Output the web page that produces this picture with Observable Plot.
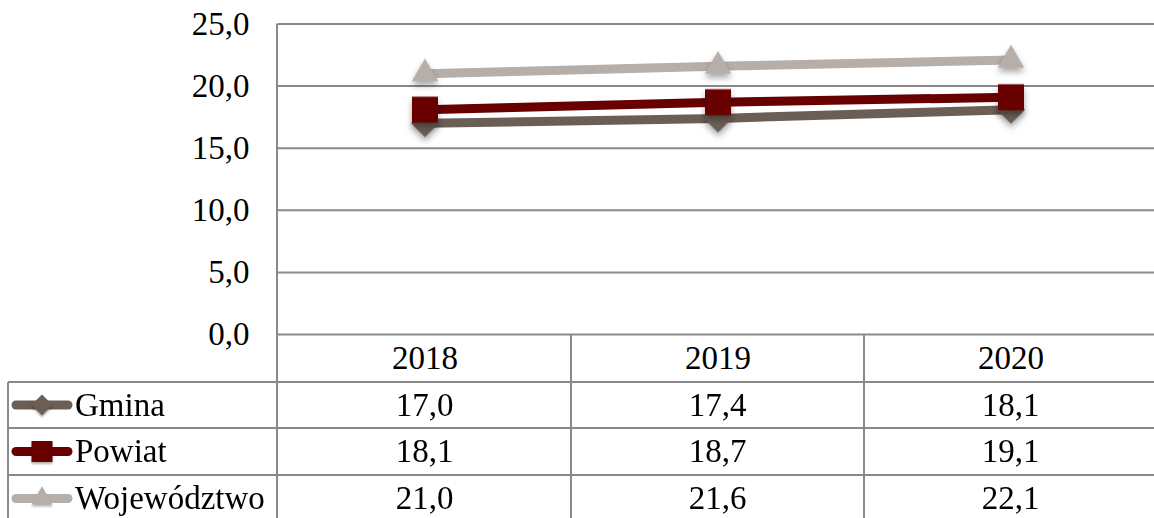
<!DOCTYPE html>
<html><head><meta charset="utf-8">
<script src="https://cdn.jsdelivr.net/npm/d3@7"></script>
<script src="https://cdn.jsdelivr.net/npm/@observablehq/plot@0.6"></script>
<style>
html,body{margin:0;padding:0;background:#fff;overflow:hidden;}
#chart{position:relative;width:1154px;height:518px;overflow:hidden;}
#chart svg text{font-family:'Liberation Serif',serif;}
</style></head><body><div id="chart"></div>
<script>
const years = ["2018", "2019", "2020"];
const seriesNames = ["Gmina", "Powiat", "Województwo"];
const gmina = [17.0, 17.4, 18.1];
const powiat = [18.1, 18.7, 19.1];
const wojewodztwo = [21.0, 21.6, 22.1];
const yTicks = [0, 5, 10, 15, 20, 25];

const colors = {"Gmina": "#6b5e55", "Powiat": "#680000", "Województwo": "#b6aea9"};
const symbols = {"Gmina": "diamond2", "Powiat": "square", "Województwo": "triangle"};
const d3symbols = {"Gmina": d3.symbolDiamond2 || d3.symbolDiamond, "Powiat": d3.symbolSquare, "Województwo": d3.symbolTriangle};
const markerR = {"Gmina": 12.6, "Powiat": 14.7, "Województwo": 9.8};
const keySize = {"Gmina": 281, "Powiat": 441, "Województwo": 191};
const valuesBySeries = {"Gmina": gmina, "Powiat": powiat, "Województwo": wojewodztwo};

const data = seriesNames.flatMap(s => years.map((y, i) => ({series: s, year: y, value: valuesBySeries[s][i]})));
const fmt = v => d3.format(".1f")(v).replace(".", ",");
const GRID = "#898989";
const W = 1154, H = 518;
const FS = 33;

const chart = Plot.plot({
  width: W, height: H,
  marginTop: 23.5, marginBottom: 184, marginLeft: 278, marginRight: 0,
  style: {fontFamily: "'Liberation Serif', serif", fontSize: FS + "px", color: "#000", background: "transparent", overflow: "visible"},
  x: {type: "band", domain: years, range: [278, 1157], padding: 0, tickSize: 0, tickPadding: 11, label: null},
  y: {domain: [0, 25], ticks: 5, tickFormat: fmt, tickSize: 0, tickPadding: 29, label: null},
  marks: [
    Plot.ruleY(yTicks, {stroke: GRID, strokeWidth: 2}),
    ...seriesNames.flatMap(s => [
      Plot.line(data.filter(d => d.series === s), {x: "year", y: "value", stroke: colors[s], strokeWidth: 9}),
      Plot.dot(data.filter(d => d.series === s), {x: "year", y: "value", symbol: symbols[s], r: markerR[s], fill: colors[s], stroke: "none"})
    ])
  ]
});
document.getElementById("chart").appendChild(chart);

const svg = d3.select(chart);
svg.selectAll('g[aria-label="dot"]').style("filter", "drop-shadow(0px 4px 3px rgba(0,0,0,0.35))");

// table below the plot, columns from Plot's x scale
const xs = chart.scale("x");
const xStart = y => (xs.apply ? xs.apply(y) : d3.scaleBand(years, xs.range)(y));
const bw = xs.bandwidth != null ? xs.bandwidth : (xs.range[1] - xs.range[0]) / years.length;
const rowBounds = [334, 382, 428, 475, 522];
const left = 8, plotLeft = 277;

const g = svg.append("g").attr("font-family", "'Liberation Serif', serif").attr("font-size", FS).attr("text-anchor", "start");
const line = (x1, y1, x2, y2) => g.append("line").attr("x1", x1).attr("y1", y1).attr("x2", x2).attr("y2", y2)
  .attr("stroke", GRID).attr("stroke-width", 2);
line(plotLeft, 23.5, plotLeft, H);
years.slice(1).forEach(y => line(xStart(y), rowBounds[0], xStart(y), H));
line(left, rowBounds[1], left, H);
rowBounds.slice(1, 4).forEach(yy => line(left, yy, W, yy));

seriesNames.forEach((s, i) => {
  const cy = (rowBounds[i + 1] + rowBounds[i + 2]) / 2;
  g.append("line").attr("x1", 16).attr("x2", 68).attr("y1", cy).attr("y2", cy)
    .attr("stroke", colors[s]).attr("stroke-width", 9).attr("stroke-linecap", "round");
  g.append("path").attr("d", d3.symbol(d3symbols[s], keySize[s])()).attr("transform", `translate(42,${cy})`)
    .attr("fill", colors[s]).attr("stroke", "none").style("filter", "drop-shadow(0px 2px 1px rgba(0,0,0,0.3))");
  g.append("text").attr("x", 75).attr("y", cy).attr("dy", "0.33em").attr("fill", "#000").attr("text-anchor", "start").text(s);
  years.forEach((y, j) => {
    g.append("text").attr("x", xStart(y) + bw / 2).attr("y", cy).attr("dy", "0.33em")
      .attr("text-anchor", "middle").attr("fill", "#000").text(fmt(valuesBySeries[s][j]));
  });
});
</script></body></html>
